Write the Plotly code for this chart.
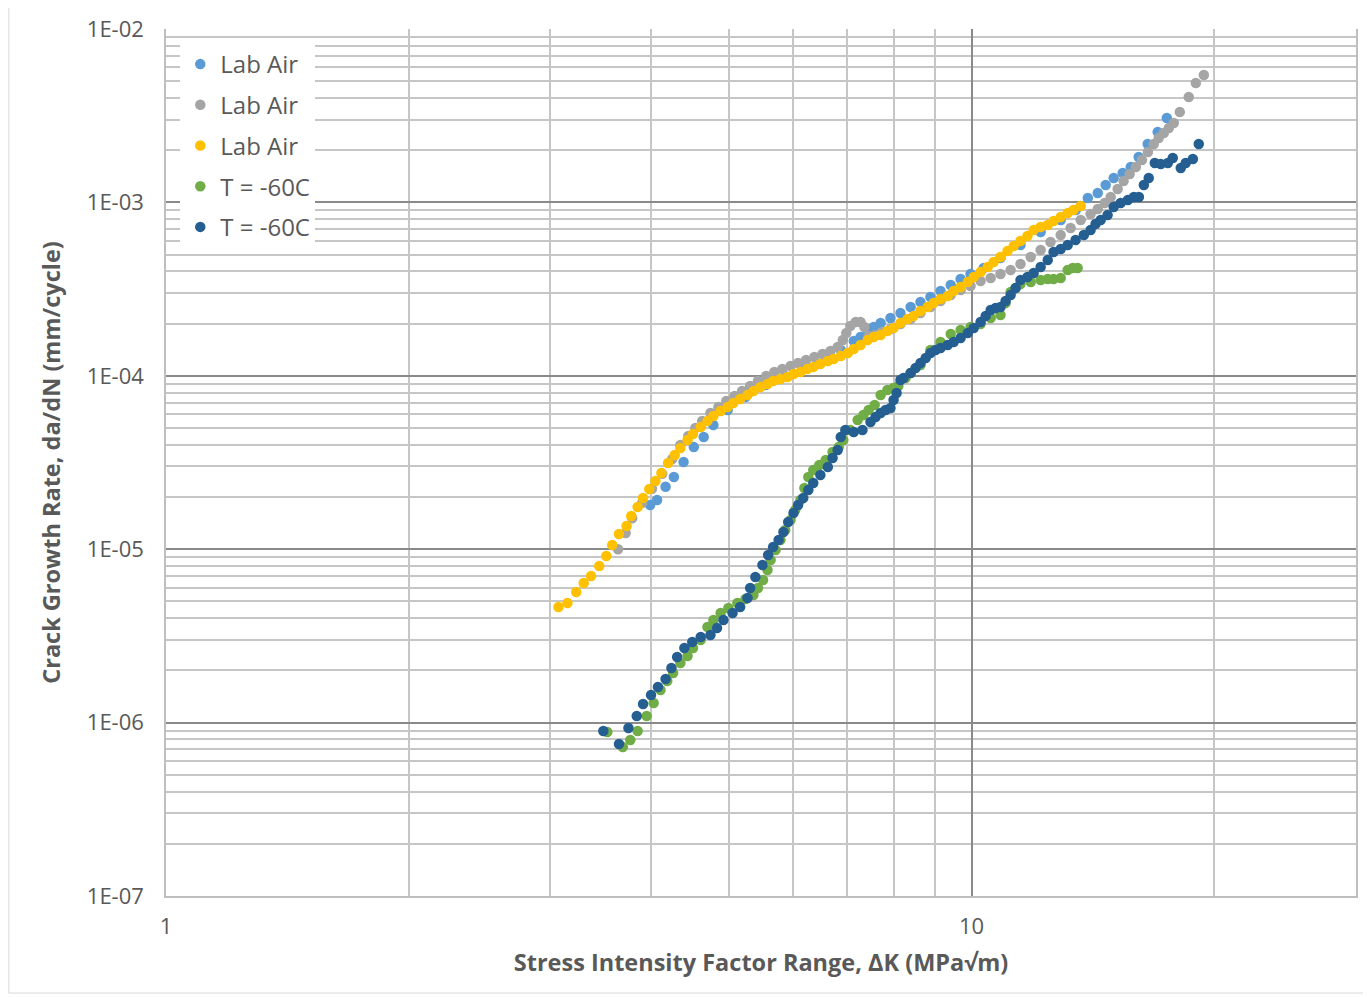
import math
import plotly.graph_objects as go

# ---------------- data (ΔK in MPa√m, da/dN in mm/cycle) ----------------
la1_name = "Lab Air"
la1_dk = [3.99, 4.07, 4.17, 4.27, 4.39, 4.52, 4.65, 4.78, 4.98, 5.24,
          5.55, 5.87, 6.22, 6.59, 6.88, 7.14, 7.28, 7.43, 7.56, 7.71,
          7.93, 8.16, 8.40, 8.64, 8.89, 9.15, 9.42, 9.69, 9.97, 10.35,
          10.86, 11.50, 12.18, 12.90, 13.47, 13.94, 14.34, 14.67, 15.01, 15.40,
          15.76, 16.12, 16.54, 17.02, 17.47]
la1_rate = [1.80e-5, 1.92e-5, 2.29e-5, 2.61e-5, 3.18e-5, 3.88e-5, 4.44e-5, 5.20e-5, 6.35e-5, 7.55e-5,
            8.85e-5, 9.98e-5, 1.125e-4, 1.268e-4, 1.409e-4, 1.587e-4, 1.674e-4, 1.813e-4, 1.911e-4, 2.016e-4,
            2.154e-4, 2.302e-4, 2.493e-4, 2.665e-4, 2.848e-4, 3.083e-4, 3.339e-4, 3.615e-4, 3.864e-4, 4.184e-4,
            4.775e-4, 5.675e-4, 6.745e-4, 7.915e-4, 9.04e-4, 1.059e-3, 1.132e-3, 1.259e-3, 1.383e-3, 1.479e-3,
            1.600e-3, 1.828e-3, 2.173e-3, 2.547e-3, 3.069e-3]

la2_name = "Lab Air"
la2_dk = [3.64, 3.72, 3.79, 3.90, 4.01, 4.13, 4.25, 4.35, 4.45, 4.54,
          4.63, 4.74, 4.85, 4.96, 5.08, 5.19, 5.31, 5.43, 5.56, 5.69,
          5.82, 5.96, 6.09, 6.23, 6.38, 6.53, 6.68, 6.82, 6.92, 6.99,
          7.07, 7.18, 7.28, 7.36, 7.45, 7.60, 7.75, 7.93, 8.16, 8.40,
          8.64, 8.89, 9.15, 9.42, 9.69, 9.97, 10.26, 10.56, 10.86, 11.18,
          11.50, 11.84, 12.18, 12.53, 12.90, 13.27, 13.66, 14.05, 14.34, 14.63,
          14.88, 15.18, 15.44, 15.71, 15.99, 16.27, 16.55, 16.83, 17.07, 17.32,
          17.57, 17.82, 18.13, 18.60, 18.98, 19.42]
la2_rate = [1.00e-5, 1.24e-5, 1.51e-5, 1.85e-5, 2.23e-5, 2.72e-5, 3.31e-5, 3.99e-5, 4.50e-5, 5.00e-5,
            5.49e-5, 6.10e-5, 6.61e-5, 7.16e-5, 7.65e-5, 8.17e-5, 8.74e-5, 9.33e-5, 9.97e-5, 1.052e-4,
            1.094e-4, 1.139e-4, 1.185e-4, 1.233e-4, 1.284e-4, 1.336e-4, 1.390e-4, 1.466e-4, 1.608e-4, 1.766e-4,
            1.937e-4, 2.042e-4, 2.042e-4, 1.911e-4, 1.696e-4, 1.719e-4, 1.789e-4, 1.862e-4, 1.990e-4, 2.126e-4,
            2.302e-4, 2.493e-4, 2.700e-4, 2.924e-4, 3.125e-4, 3.296e-4, 3.522e-4, 3.664e-4, 3.864e-4, 4.076e-4,
            4.414e-4, 4.842e-4, 5.316e-4, 5.910e-4, 6.486e-4, 7.117e-4, 7.915e-4, 8.574e-4, 9.159e-4, 9.920e-4,
            1.074e-3, 1.195e-3, 1.329e-3, 1.458e-3, 1.600e-3, 1.757e-3, 1.953e-3, 2.172e-3, 2.352e-3, 2.513e-3,
            2.686e-3, 2.870e-3, 3.321e-3, 4.054e-3, 4.881e-3, 5.429e-3]

la3_name = "Lab Air"
la3_dk = [3.07, 3.15, 3.23, 3.30, 3.37, 3.45, 3.52, 3.58, 3.65, 3.73,
          3.78, 3.85, 3.91, 3.98, 4.05, 4.12, 4.20, 4.28, 4.35, 4.44,
          4.51, 4.61, 4.70, 4.78, 4.88, 4.98, 5.06, 5.16, 5.27, 5.36,
          5.47, 5.58, 5.67, 5.79, 5.91, 6.01, 6.13, 6.25, 6.36, 6.49,
          6.63, 6.74, 6.88, 7.02, 7.14, 7.28, 7.43, 7.56, 7.71, 7.86,
          8.00, 8.16, 8.33, 8.47, 8.64, 8.82, 8.97, 9.15, 9.34, 9.50,
          9.69, 9.89, 10.06, 10.26, 10.47, 10.65, 10.86, 11.08, 11.28, 11.50,
          11.73, 11.94, 12.18, 12.43, 12.64, 12.90, 13.16, 13.38, 13.66]
la3_rate = [4.64e-6, 4.90e-6, 5.67e-6, 6.39e-6, 7.01e-6, 8.00e-6, 9.14e-6, 1.057e-5, 1.224e-5, 1.361e-5,
            1.554e-5, 1.751e-5, 1.974e-5, 2.225e-5, 2.474e-5, 2.750e-5, 3.141e-5, 3.494e-5, 3.833e-5, 4.264e-5,
            4.617e-5, 5.068e-5, 5.489e-5, 5.864e-5, 6.266e-5, 6.607e-5, 6.967e-5, 7.347e-5, 7.749e-5, 8.173e-5,
            8.619e-5, 8.969e-5, 9.333e-5, 9.584e-5, 9.842e-5, 1.024e-4, 1.052e-4, 1.094e-4, 1.124e-4, 1.170e-4,
            1.217e-4, 1.250e-4, 1.301e-4, 1.354e-4, 1.427e-4, 1.505e-4, 1.608e-4, 1.674e-4, 1.719e-4, 1.813e-4,
            1.887e-4, 2.016e-4, 2.126e-4, 2.213e-4, 2.364e-4, 2.493e-4, 2.630e-4, 2.773e-4, 2.886e-4, 3.083e-4,
            3.252e-4, 3.474e-4, 3.713e-4, 3.967e-4, 4.241e-4, 4.531e-4, 4.842e-4, 5.246e-4, 5.604e-4, 5.990e-4,
            6.401e-4, 6.931e-4, 7.213e-4, 7.407e-4, 7.811e-4, 8.239e-4, 8.687e-4, 9.042e-4, 9.533e-4]

t60a_name = "T = -60C"
t60a_dk = [3.53, 3.69, 3.77, 3.85, 3.95, 4.03, 4.11, 4.19, 4.26, 4.35,
           4.44, 4.51, 4.61, 4.70, 4.78, 4.88, 4.99, 5.12, 5.24, 5.36,
           5.43, 5.51, 5.58, 5.63, 5.71, 5.79, 5.87, 5.96, 6.04, 6.13,
           6.20, 6.27, 6.36, 6.47, 6.59, 6.72, 6.84, 6.93, 7.07, 7.22,
           7.34, 7.45, 7.58, 7.71, 7.86, 8.00, 8.11, 8.28, 8.40, 8.64,
           8.89, 9.15, 9.42, 9.69, 9.97, 10.26, 10.56, 10.86, 11.02, 11.18,
           11.34, 11.50, 11.84, 12.18, 12.43, 12.64, 12.90, 13.16, 13.35, 13.54]
t60a_rate = [8.83e-7, 7.23e-7, 7.94e-7, 8.94e-7, 1.092e-6, 1.297e-6, 1.542e-6, 1.738e-6, 1.932e-6, 2.207e-6,
             2.422e-6, 2.693e-6, 2.995e-6, 3.559e-6, 3.905e-6, 4.287e-6, 4.580e-6, 4.895e-6, 5.163e-6, 5.444e-6,
             5.973e-6, 6.642e-6, 7.586e-6, 8.664e-6, 9.895e-6, 1.130e-5, 1.290e-5, 1.474e-5, 1.683e-5, 1.922e-5,
             2.254e-5, 2.608e-5, 2.862e-5, 3.059e-5, 3.268e-5, 3.636e-5, 3.885e-5, 4.264e-5, 4.869e-5, 5.562e-5,
             5.941e-5, 6.350e-5, 6.784e-5, 7.749e-5, 8.282e-5, 8.505e-5, 8.735e-5, 9.712e-5, 1.038e-4, 1.154e-4,
             1.409e-4, 1.566e-4, 1.742e-4, 1.837e-4, 1.911e-4, 1.990e-4, 2.154e-4, 2.242e-4, 2.630e-4, 3.042e-4,
             3.208e-4, 3.383e-4, 3.474e-4, 3.568e-4, 3.615e-4, 3.615e-4, 3.664e-4, 4.076e-4, 4.184e-4, 4.184e-4]

t60b_name = "T = -60C"
t60b_dk = [3.49, 3.65, 3.75, 3.84, 3.91, 4.00, 4.08, 4.17, 4.24, 4.31,
           4.40, 4.50, 4.61, 4.74, 4.83, 4.92, 5.05, 5.16, 5.27, 5.31,
           5.39, 5.50, 5.59, 5.67, 5.76, 5.84, 5.92, 6.01, 6.09, 6.18,
           6.27, 6.36, 6.49, 6.63, 6.72, 6.82, 6.88, 6.97, 7.14, 7.32,
           7.49, 7.60, 7.71, 7.82, 7.93, 8.00, 8.07, 8.16, 8.23, 8.40,
           8.52, 8.64, 8.77, 8.89, 9.02, 9.15, 9.34, 9.50, 9.69, 9.89,
           10.06, 10.26, 10.41, 10.56, 10.71, 10.86, 11.02, 11.18, 11.34, 11.50,
           11.73, 11.94, 12.18, 12.43, 12.64, 12.90, 13.16, 13.46, 13.78, 14.05,
           14.25, 14.46, 14.75, 15.01, 15.31, 15.63, 15.90, 16.13, 16.36, 16.59,
           16.88, 17.17, 17.52, 17.77, 18.18, 18.44, 18.82, 19.14]
t60b_rate = [8.94e-7, 7.52e-7, 9.31e-7, 1.092e-6, 1.280e-6, 1.442e-6, 1.604e-6, 1.784e-6, 2.064e-6, 2.389e-6,
             2.693e-6, 2.916e-6, 3.117e-6, 3.201e-6, 3.512e-6, 3.905e-6, 4.287e-6, 4.642e-6, 5.232e-6, 5.973e-6,
             6.915e-6, 8.108e-6, 9.261e-6, 1.030e-5, 1.130e-5, 1.257e-5, 1.435e-5, 1.617e-5, 1.798e-5, 1.974e-5,
             2.194e-5, 2.409e-5, 2.679e-5, 2.979e-5, 3.357e-5, 3.734e-5, 4.436e-5, 4.869e-5, 4.742e-5, 4.869e-5,
             5.414e-5, 5.786e-5, 6.102e-5, 6.350e-5, 6.521e-5, 7.250e-5, 7.957e-5, 9.458e-5, 9.712e-5, 1.038e-4,
             1.109e-4, 1.185e-4, 1.266e-4, 1.354e-4, 1.409e-4, 1.447e-4, 1.505e-4, 1.566e-4, 1.652e-4, 1.766e-4,
             1.887e-4, 2.042e-4, 2.213e-4, 2.396e-4, 2.460e-4, 2.493e-4, 2.700e-4, 2.924e-4, 3.208e-4, 3.568e-4,
             3.713e-4, 3.916e-4, 4.241e-4, 4.655e-4, 5.176e-4, 5.386e-4, 5.681e-4, 6.070e-4, 6.486e-4, 6.931e-4,
             7.506e-4, 7.915e-4, 8.459e-4, 9.408e-4, 9.920e-4, 1.032e-3, 1.074e-3, 1.074e-3, 1.260e-3, 1.383e-3,
             1.687e-3, 1.665e-3, 1.687e-3, 1.803e-3, 1.579e-3, 1.687e-3, 1.779e-3, 2.172e-3]

x_tickvals = [1, 10]
x_ticktext = ["1", "10"]
y_tickvals = [1e-7, 1e-6, 1e-5, 1e-4, 1e-3, 1e-2]
y_ticktext = ["1E-07", "1E-06", "1E-05", "1E-04", "1E-03", "1E-02"]
x_title = "<b>Stress Intensity Factor Range, ΔK (MPa√m)</b>"
y_title = "<b>Crack Growth Rate, da/dN (mm/cycle)</b>"

# ---------------- styling ----------------
FONT = "'Open Sans', Lato, sans-serif"
TXT = "#595959"
MAJOR = "#8a8a8a"
MINOR = "#c6c6c6"
series = [
    (la1_name, la1_dk, la1_rate, "#5B9BD5"),
    (la2_name, la2_dk, la2_rate, "#A5A5A5"),
    (la3_name, la3_dk, la3_rate, "#FFC000"),
    (t60a_name, t60a_dk, t60a_rate, "#70AD47"),
    (t60b_name, t60b_dk, t60b_rate, "#255E91"),
]

fig = go.Figure()
for i, (nm, xs, ys, col) in enumerate(series):
    fig.add_trace(go.Scatter(
        x=xs, y=ys, mode="markers", name=nm, legendgroup=f"g{i}",
        marker=dict(size=10.5, color=col, line=dict(width=0)),
    ))

x_minor = [k for k in range(2, 10)] + [20, 30]
y_minor = [k * 10.0 ** e for e in range(-7, -2) for k in range(2, 10)]

fig.update_layout(
    width=1363, height=989, autosize=False,
    margin=dict(l=158, r=15, t=21, b=101, pad=0),
    paper_bgcolor="white", plot_bgcolor="white",
    font=dict(family=FONT, size=22, color=TXT),
    showlegend=True,
    legend=dict(
        x=0.012, y=0.985, xanchor="left", yanchor="top",
        bgcolor="white", borderwidth=0,
        font=dict(family=FONT, size=24, color=TXT),
        traceorder="grouped", tracegroupgap=6.5,
    ),
    xaxis=dict(
        type="log", range=[0, math.log10(30)], automargin=False,
        tickmode="array", tickvals=x_tickvals, ticktext=x_ticktext,
        ticks="", showgrid=True, gridcolor=MAJOR, gridwidth=1.5,
        minor=dict(tickmode="array", tickvals=x_minor, showgrid=True,
                   gridcolor=MINOR, gridwidth=1.5, ticks=""),
        showline=True, linecolor="#bfbfbf", linewidth=1.5, mirror=False,
        zeroline=False, ticklabelstandoff=10,
        tickfont=dict(family=FONT, size=22, color=TXT),
        title=dict(text=x_title, standoff=15,
                   font=dict(family=FONT, size=23.5, color=TXT)),
    ),
    yaxis=dict(
        type="log", range=[-7, -2], automargin=False,
        tickmode="array", tickvals=y_tickvals, ticktext=y_ticktext,
        ticks="", showgrid=True, gridcolor=MAJOR, gridwidth=1.5,
        minor=dict(tickmode="array", tickvals=y_minor, showgrid=True,
                   gridcolor=MINOR, gridwidth=1.5, ticks=""),
        showline=True, linecolor="#bfbfbf", linewidth=1.5, mirror=True,
        zeroline=False, ticklabelstandoff=16,
        tickfont=dict(family=FONT, size=22, color=TXT),
        title=dict(text=y_title, standoff=20,
                   font=dict(family=FONT, size=23.5, color=TXT)),
    ),
    shapes=[dict(type="rect", xref="paper", yref="paper",
                 x0=-0.1320, x1=1.0084, y0=-0.1119, y1=1.0277,
                 line=dict(color="#d9d9d9", width=1), fillcolor="rgba(0,0,0,0)",
                 layer="below")],
)

fig.write_html("out.html")
